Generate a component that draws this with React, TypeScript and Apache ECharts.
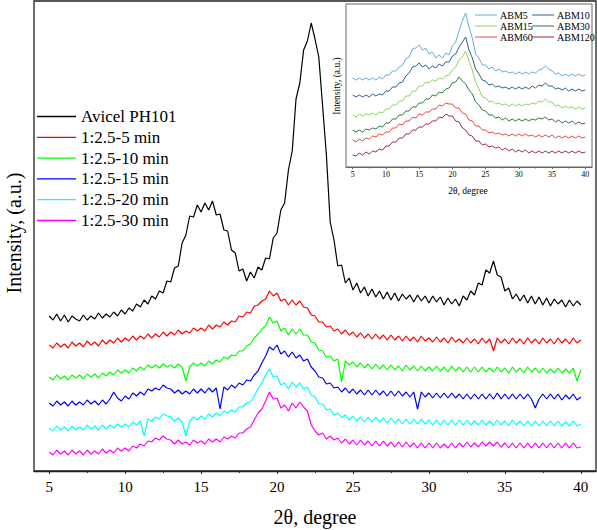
import React, { useEffect, useRef } from "react";
import * as echarts from "echarts";

// ---- data ----
const X_START = 5;
const MAIN_STEP = 0.25; // degrees between main-series points
const INSET_STEP = 0.5; // degrees between inset-series points

const mainNames = [
  "Avicel PH101",
  "1:2.5-5 min",
  "1:2.5-10 min",
  "1:2.5-15 min",
  "1:2.5-20 min",
  "1:2.5-30 min",
];
const mainColors = ["#000000", "#ff0000", "#00ff00", "#0000ff", "#00ffff", "#ff00ff"];

const avicel = [
  155, 151, 157, 150, 156, 149, 155, 152, 150, 156, 151, 155, 152, 158, 153, 157,
  154, 159, 155, 161, 157, 163, 160, 167, 164, 171, 167, 175, 172, 180, 178, 190,
  189, 203, 205, 228, 236, 255, 254, 266, 259, 268, 261, 270, 256, 257, 241, 240,
  221, 218, 200, 202, 190, 199, 193, 204, 201, 213, 212, 233, 238, 261, 268, 301,
  320, 372, 388, 421, 430, 448, 432, 414, 365, 316, 249, 231, 205, 206, 188, 193,
  181, 188, 178, 184, 175, 182, 174, 180, 172, 179, 171, 178, 170, 177, 172, 176,
  169, 176, 170, 175, 168, 175, 169, 174, 166, 173, 167, 172, 165, 175, 171, 180,
  176, 188, 186, 201, 198, 210, 196, 194, 180, 183, 172, 177, 170, 176, 168, 175,
  167, 174, 166, 173, 165, 172, 167, 171, 164, 171, 165, 170, 166,
];
const min5 = [
  126, 123, 128, 124, 127, 123, 129, 125, 128, 124, 130, 126, 129, 125, 131, 127,
  131, 128, 133, 129, 133, 130, 135, 131, 135, 132, 137, 133, 137, 134, 139, 135,
  139, 136, 141, 137, 140, 138, 143, 140, 143, 140, 146, 142, 146, 144, 149, 146,
  150, 149, 155, 154, 159, 158, 165, 166, 170, 172, 180, 175, 178, 170, 172, 166,
  171, 166, 170, 164, 163, 156, 155, 149, 149, 144, 145, 140, 142, 137, 141, 136,
  139, 134, 138, 133, 137, 132, 137, 132, 136, 131, 136, 131, 135, 130, 135, 130,
  134, 129, 135, 130, 133, 129, 134, 129, 133, 128, 134, 129, 132, 128, 133, 128,
  132, 127, 133, 128, 132, 120, 133, 128, 132, 127, 133, 128, 132, 127, 133, 128,
  132, 127, 133, 128, 132, 127, 133, 128, 132, 127, 133, 128, 131,
];
const min10 = [
  94, 91, 96, 92, 95, 91, 96, 93, 96, 92, 97, 94, 97, 93, 98, 95,
  99, 96, 101, 98, 101, 98, 103, 100, 104, 101, 106, 103, 106, 103, 107, 104,
  106, 103, 107, 104, 90, 104, 108, 105, 108, 105, 110, 107, 111, 109, 114, 112,
  116, 115, 120, 120, 125, 127, 133, 137, 142, 145, 154, 148, 150, 140, 143, 136,
  142, 137, 142, 136, 136, 129, 128, 121, 120, 114, 115, 110, 112, 89, 110, 106,
  109, 104, 108, 103, 107, 102, 107, 102, 106, 101, 106, 101, 105, 100, 106, 101,
  105, 100, 105, 100, 104, 100, 105, 100, 104, 99, 105, 100, 104, 99, 104, 99,
  104, 99, 104, 99, 103, 99, 104, 99, 103, 98, 104, 99, 103, 98, 104, 99,
  103, 98, 103, 98, 102, 98, 103, 98, 102, 98, 103, 90, 101,
];
const min15 = [
  68, 65, 70, 66, 69, 65, 70, 66, 69, 66, 71, 67, 70, 66, 71, 67,
  72, 79, 73, 70, 75, 72, 78, 75, 79, 76, 82, 80, 83, 81, 86, 83,
  82, 78, 81, 77, 80, 77, 82, 78, 82, 78, 83, 79, 83, 62, 84, 81,
  86, 83, 88, 86, 91, 90, 96, 100, 108, 115, 124, 121, 126, 117, 120, 114,
  119, 113, 116, 110, 112, 104, 100, 94, 93, 87, 88, 83, 84, 79, 83, 78,
  82, 77, 81, 76, 81, 76, 81, 76, 80, 75, 80, 75, 80, 75, 79, 74,
  79, 62, 79, 74, 78, 73, 78, 73, 78, 73, 78, 73, 77, 72, 77, 72,
  77, 72, 77, 72, 77, 72, 78, 72, 77, 72, 77, 72, 77, 72, 77, 72,
  63, 72, 77, 72, 77, 72, 77, 71, 76, 72, 77, 71, 74,
];
const min20 = [
  43, 40, 45, 41, 44, 40, 45, 41, 44, 41, 46, 42, 45, 41, 46, 42,
  46, 43, 47, 44, 47, 44, 49, 46, 50, 35, 52, 50, 54, 52, 57, 55,
  54, 50, 53, 49, 35, 50, 54, 51, 55, 52, 57, 54, 58, 55, 60, 58,
  61, 59, 64, 64, 68, 69, 75, 82, 88, 96, 102, 94, 95, 86, 88, 82,
  89, 84, 88, 82, 84, 76, 74, 67, 67, 61, 62, 56, 58, 53, 56, 51,
  55, 50, 54, 49, 54, 49, 54, 49, 53, 48, 53, 48, 52, 47, 52, 47,
  52, 47, 52, 47, 51, 46, 51, 46, 51, 46, 51, 46, 51, 46, 51, 46,
  50, 46, 51, 46, 50, 46, 51, 46, 50, 45, 51, 46, 50, 45, 50, 45,
  50, 45, 50, 45, 50, 45, 50, 45, 49, 45, 50, 45, 47,
];
const min30 = [
  19, 16, 21, 17, 20, 16, 21, 17, 20, 16, 21, 17, 20, 17, 22, 18,
  21, 18, 23, 20, 23, 20, 25, 23, 27, 25, 30, 29, 33, 31, 35, 32,
  31, 27, 31, 27, 29, 26, 31, 28, 30, 27, 32, 29, 32, 29, 34, 32,
  35, 33, 38, 38, 42, 44, 51, 58, 62, 70, 79, 72, 73, 63, 66, 60,
  68, 63, 69, 64, 60, 46, 40, 36, 38, 32, 35, 31, 33, 28, 32, 27,
  31, 26, 31, 26, 30, 25, 30, 25, 30, 25, 29, 24, 29, 24, 29, 24,
  28, 23, 28, 23, 28, 23, 28, 23, 27, 23, 28, 23, 28, 24, 29, 24,
  28, 24, 29, 25, 29, 25, 29, 24, 28, 23, 28, 23, 28, 23, 28, 23,
  28, 23, 28, 23, 28, 23, 28, 23, 28, 23, 28, 23, 24,
];
const mainSeries = [avicel, min5, min10, min15, min20, min30];

const insetNames = ["ABM5", "ABM10", "ABM15", "ABM30", "ABM60", "ABM120"];
const insetColors = ["#62acd8", "#2d5f8c", "#8fd163", "#2f7a38", "#ee4444", "#9e2b3b"];

const abm5 = [
  89, 87, 89, 87, 89, 87, 89, 87, 90, 88, 92, 92, 96, 96, 100, 102, 108, 110, 118, 119,
  122, 117, 119, 113, 115, 109, 112, 109, 114, 112, 121, 125, 136, 146, 154, 140, 129, 113,
  109, 102, 102, 98, 100, 96, 98, 95, 96, 94, 95, 93, 95, 93, 95, 93, 95, 94, 97, 98,
  101, 98, 96, 93, 94, 91, 93, 91, 93, 91, 93, 91, 92,
];
const abm10 = [
  72, 70, 72, 70, 72, 70, 73, 71, 73, 72, 76, 76, 80, 80, 84, 85, 91, 94, 100, 101,
  104, 100, 102, 98, 101, 99, 103, 101, 105, 105, 111, 113, 120, 125, 130, 117, 109, 98,
  93, 87, 86, 82, 83, 80, 81, 79, 80, 78, 80, 78, 80, 78, 80, 78, 81, 79, 82, 81,
  84, 81, 81, 78, 79, 77, 79, 76, 78, 76, 78, 76, 77,
];
const abm15 = [
  52, 50, 53, 51, 53, 52, 54, 52, 55, 54, 58, 58, 62, 62, 66, 66, 71, 71, 76, 76,
  81, 81, 85, 84, 87, 86, 89, 88, 91, 92, 97, 100, 107, 110, 116, 106, 97, 85,
  78, 70, 69, 65, 66, 63, 64, 62, 63, 61, 63, 61, 63, 61, 63, 62, 64, 63, 66, 65,
  68, 65, 65, 61, 62, 59, 61, 59, 60, 58, 60, 58, 59,
];
const abm30 = [
  37, 35, 37, 35, 38, 37, 39, 38, 41, 40, 44, 44, 48, 48, 52, 52, 56, 56, 60, 60,
  64, 64, 68, 68, 72, 71, 75, 74, 78, 79, 84, 85, 90, 86, 83, 77, 73, 65,
  62, 57, 56, 52, 52, 49, 50, 47, 49, 46, 48, 46, 48, 46, 48, 46, 48, 47, 49, 48,
  50, 47, 48, 45, 47, 44, 46, 44, 46, 43, 45, 43, 44,
];
const abm60 = [
  27, 25, 28, 26, 29, 28, 31, 30, 33, 32, 35, 35, 39, 39, 43, 42, 46, 46, 50, 49,
  53, 52, 55, 55, 58, 58, 62, 61, 64, 63, 63, 59, 59, 54, 53, 47, 46, 41,
  41, 37, 37, 34, 35, 33, 34, 32, 33, 31, 33, 31, 33, 31, 33, 31, 32, 30, 32, 30,
  32, 30, 32, 29, 31, 29, 31, 29, 31, 29, 31, 29, 30,
];
const abm120 = [
  12, 11, 14, 12, 15, 13, 16, 15, 18, 17, 21, 21, 25, 25, 29, 29, 33, 33, 37, 37,
  40, 40, 43, 43, 46, 46, 50, 49, 53, 51, 51, 46, 45, 39, 37, 32, 31, 26,
  26, 22, 23, 20, 21, 19, 20, 17, 19, 16, 18, 15, 17, 15, 17, 14, 16, 14, 16, 14,
  16, 14, 16, 14, 16, 14, 16, 14, 16, 14, 16, 14, 15,
];
const insetSeries = [abm5, abm10, abm15, abm30, abm60, abm120];

const majorTicks = [5, 10, 15, 20, 25, 30, 35, 40];
const minorTicks = [7.5, 12.5, 17.5, 22.5, 27.5, 32.5, 37.5];

const SERIF = "Liberation Serif";

const toPairs = (vals: number[], step: number) =>
  vals.map((v, i) => [X_START + i * step, v]);

export default function App() {
  const ref = useRef<HTMLDivElement>(null);
  useEffect(() => {
    if (!ref.current) return;
    const chart = echarts.init(ref.current, undefined, { renderer: "svg" });

    const axisColor = (g: number) => (g === 0 ? "#222" : "#666");
    const xBase = (gridIndex: number, labelSize: number, margin: number, tickLen: number) => ({
      type: "value",
      gridIndex,
      min: 4,
      max: 41,
      position: "bottom",
      splitLine: { show: false },
      axisLine: { show: true, lineStyle: { color: axisColor(gridIndex), width: gridIndex === 0 ? 1.3 : 1 } },
      axisTick: { show: true, customValues: majorTicks, length: tickLen, lineStyle: { color: axisColor(gridIndex) } },
      axisLabel: {
        show: true,
        customValues: majorTicks,
        fontFamily: SERIF,
        fontSize: labelSize,
        color: "#000",
        margin,
      },
    });
    const xMinor = (gridIndex: number, tickLen: number) => ({
      type: "value",
      gridIndex,
      min: 4,
      max: 41,
      position: "bottom",
      splitLine: { show: false },
      axisLine: { show: false },
      axisTick: { show: true, customValues: minorTicks, length: tickLen, lineStyle: { color: axisColor(gridIndex) } },
      axisLabel: { show: false },
    });
    const yBase = (gridIndex: number, max: number) => ({
      type: "value",
      gridIndex,
      min: 0,
      max,
      splitLine: { show: false },
      axisLine: { show: false },
      axisTick: { show: false },
      axisLabel: { show: false },
    });

    const series: any[] = [];
    mainSeries.forEach((vals, i) => {
      series.push({
        name: mainNames[i],
        type: "line",
        xAxisIndex: 0,
        yAxisIndex: 0,
        data: toPairs(vals, MAIN_STEP),
        symbol: "none",
        lineStyle: { color: mainColors[i], width: 1.2 },
        itemStyle: { color: mainColors[i] },
        z: 3 + (mainSeries.length - i),
      });
    });
    insetSeries.forEach((vals, i) => {
      series.push({
        name: insetNames[i],
        type: "line",
        xAxisIndex: 2,
        yAxisIndex: 1,
        data: toPairs(vals, INSET_STEP),
        symbol: "none",
        lineStyle: { color: insetColors[i], width: 1 },
        itemStyle: { color: insetColors[i] },
        z: 10,
      });
    });

    const insetLegend = (names: string[], left: number) => ({
      data: names,
      orient: "vertical",
      left,
      top: 10,
      padding: 0,
      icon: "rect",
      itemWidth: 22,
      itemHeight: 1,
      itemGap: 1,
      z: 20,
      textStyle: { fontFamily: SERIF, fontSize: 10, color: "#000", padding: [0, 0, 0, -2] },
    });

    chart.setOption({
      animation: false,
      backgroundColor: "#fff",
      grid: [
        {
          left: 34,
          right: 1,
          top: 1,
          bottom: 59,
          show: true,
          borderColor: "#222",
          borderWidth: 1.3,
          backgroundColor: "transparent",
        },
        {
          left: 346,
          right: 5,
          top: 4,
          bottom: 363,
          show: true,
          borderColor: "#666",
          borderWidth: 1,
          backgroundColor: "#fff",
        },
      ],
      xAxis: [xBase(0, 15, 8, 3), xMinor(0, 2), xBase(1, 8, 3, 2), xMinor(1, 1.5)],
      yAxis: [yBase(0, 470), yBase(1, 163)],
      legend: [
        {
          data: mainNames,
          orient: "vertical",
          left: 37,
          top: 108,
          padding: 0,
          icon: "rect",
          itemWidth: 39,
          itemHeight: 1.3,
          itemGap: 3.8,
          z: 20,
          textStyle: { fontFamily: SERIF, fontSize: 17, color: "#000" },
        },
        insetLegend(["ABM5", "ABM15", "ABM60"], 475),
        insetLegend(["ABM10", "ABM30", "ABM120"], 532),
      ],
      graphic: [
        {
          type: "text",
          x: 315,
          y: 517,
          style: { text: "2θ, degree", font: "20px Liberation Serif", fill: "#000", textAlign: "center", textVerticalAlign: "middle" },
        },
        {
          type: "text",
          x: 14,
          y: 233,
          rotation: Math.PI / 2,
          style: { text: "Intensity, (a.u.)", font: "20px Liberation Serif", fill: "#000", textAlign: "center", textVerticalAlign: "middle" },
        },
        {
          type: "text",
          x: 468,
          y: 191,
          style: { text: "2θ, degree", font: "9.5px Liberation Serif", fill: "#000", textAlign: "center", textVerticalAlign: "middle" },
        },
        {
          type: "text",
          x: 337,
          y: 86,
          rotation: Math.PI / 2,
          style: { text: "Intensity, (a.u.)", font: "9.5px Liberation Serif", fill: "#000", textAlign: "center", textVerticalAlign: "middle" },
        },
      ],
      series,
    });
    return () => chart.dispose();
  }, []);
  return <div ref={ref} style={{ position: "absolute", left: 0, top: 0, width: 597, height: 530 }} />;
}
